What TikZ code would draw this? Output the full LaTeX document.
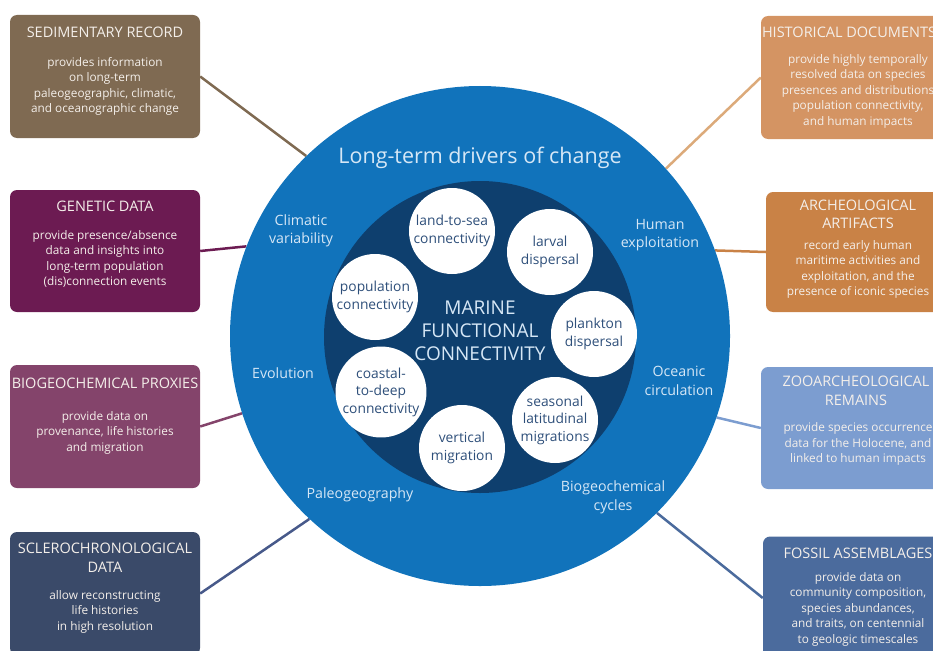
\documentclass[tikz,border=0pt]{standalone}
\usepackage{fontspec}
\setmainfont{Open Sans}
\usetikzlibrary{calc}
\pgfdeclarelayer{bg}
\pgfsetlayers{bg,main}
\definecolor{outerblue}{HTML}{1173BB}
\definecolor{innerblue}{HTML}{0E3F6E}
\definecolor{wctext}{HTML}{2E4F7A}
\definecolor{drvtext}{HTML}{D6E7F6}
\definecolor{boxtext}{HTML}{F4EFEA}
\definecolor{sedc}{HTML}{7F6A52}
\definecolor{genc}{HTML}{6C1B52}
\definecolor{proxc}{HTML}{84446B}
\definecolor{sclc}{HTML}{3A4A69}
\definecolor{sclline}{HTML}{47598A}
\definecolor{histc}{HTML}{D49463}
\definecolor{histline}{HTML}{DCAA7A}
\definecolor{archc}{HTML}{C98246}
\definecolor{zooc}{HTML}{7C9DD0}
\definecolor{fosc}{HTML}{4B6B9D}
\begin{document}
\begin{tikzpicture}[x=1pt,y=-1pt,
  infobox/.style={rounded corners=7pt, minimum width=190pt, minimum height=123pt, inner sep=0pt},
  ttl/.style={text=boxtext, font=\fontsize{14.5}{18.5}\selectfont, align=center, inner sep=0pt},
  bdy/.style={text=boxtext, font=\fontsize{11.8}{15.5}\selectfont, align=center, inner sep=0pt},
  drv/.style={text=drvtext, font=\fontsize{14.2}{18.5}\selectfont, align=center, inner sep=0pt},
  wc/.style={circle, fill=white, minimum size=86pt, inner sep=0pt, text=wctext, font=\fontsize{13.8}{17.5}\selectfont, align=center},
  link/.style={line width=2.5pt}]
\useasboundingbox (0,0) rectangle (933,650);
\clip (0,0) rectangle (933,650);

% central circles
\node[circle, fill=outerblue, minimum size=500pt, inner sep=0pt] (outer) at (480,336) {};
\node[circle, fill=innerblue, minimum size=312pt, inner sep=0pt] (inner) at (480,337) {};

\node[text=drvtext, font=\fontsize{21.5}{24}\selectfont, inner sep=0pt] (title) at (480,158) {Long-term drivers of change};
\node[text=drvtext, font=\fontsize{19}{23}\selectfont, align=center, inner sep=0pt] (mfc) at (480,331) {MARINE\\FUNCTIONAL\\CONNECTIVITY};

% drivers
\node[drv] (clim) at (301,231) {Climatic\\variability};
\node[drv] (human) at (660,235) {Human\\exploitation};
\node[drv] (evo) at (283,373) {Evolution};
\node[drv] (ocean) at (679,381) {Oceanic\\circulation};
\node[drv] (paleo) at (360,495) {Paleogeography};
\node[drv] (biogeo) at (613,497.5) {Biogeochemical\\cycles};

% white circles
\node[wc] (land) at (452,231) {land-to-sea\\connectivity};
\node[wc] (larval) at (550,252) {larval\\dispersal};
\node[wc] (plank) at (594,334) {plankton\\dispersal};
\node[wc] (seas) at (555,420) {seasonal\\latitudinal\\migrations};
\node[wc] (vert) at (462,448) {vertical\\migration};
\node[wc] (coast) at (381,392) {coastal-\\to-deep\\connectivity};
\node[wc] (pop) at (375,297) {population\\connectivity};

% left boxes
\node[infobox, fill=sedc] (sed) at (105,76.5) {};
\node[ttl] (sedt) at (105,32) {SEDIMENTARY RECORD};
\node[bdy] (sedb) at (105,86.5) {provides information\\on long-term\\paleogeographic, climatic,\\and oceanographic change};

\node[infobox, fill=genc, minimum height=122pt] (gen) at (105,251) {};
\node[ttl] (gent) at (105,206) {GENETIC DATA};
\node[bdy] (genb) at (105,259) {provide presence/absence\\data and insights into\\long-term population\\(dis)connection events};

\node[infobox, fill=proxc] (prox) at (105,426.5) {};
\node[ttl] (proxt) at (105,383) {BIOGEOCHEMICAL PROXIES};
\node[bdy] (proxb) at (105,432.5) {provide data on\\provenance, life histories\\and migration};

\node[infobox, fill=sclc] (scl) at (105,593.5) {};
\node[ttl] (sclt) at (105,557.5) {SCLEROCHRONOLOGICAL\\DATA};
\node[bdy] (sclb) at (105,611.5) {allow reconstructing\\life histories\\in high resolution};

% right boxes
\node[infobox, fill=histc] (hist) at (856,77.5) {};
\node[ttl] (histt) at (849,32) {HISTORICAL DOCUMENTS};
\node[bdy] (histb) at (858,91) {provide highly temporally\\resolved data on species\\presences and distributions\\population connectivity,\\and human impacts};

\node[infobox, fill=archc, minimum height=120pt] (arch) at (861,252) {};
\node[ttl] (archt) at (858,214.5) {ARCHEOLOGICAL\\ARTIFACTS};
\node[bdy] (archb) at (858,269.5) {record early human\\maritime activities and\\exploitation, and the\\presence of iconic species};

\node[infobox, fill=zooc, minimum height=122pt] (zoo) at (856,428) {};
\node[ttl] (zoot) at (856,391) {ZOOARCHEOLOGICAL\\REMAINS};
\node[bdy] (zoob) at (858,444) {provide species occurrence\\data for the Holocene, and\\linked to human impacts};

\node[infobox, fill=fosc] (fos) at (858,598) {};
\node[ttl] (fost) at (858,553) {FOSSIL ASSEMBLAGES};
\node[bdy] (fosb) at (858,609) {provide data on\\community composition,\\species abundances,\\and traits, on centennial\\to geologic timescales};

% connectors
\begin{pgfonlayer}{bg}
\draw[link, sedc] (sed.east) -- (outer.134);
\draw[link, genc] (gen.east) -- (outer.159.3);
\draw[link, proxc] (prox.east) -- (outer.198.9);
\draw[link, sclline] (scl.east) -- (outer.227.1);
\draw[link, histline] (hist.west) -- (outer.42.7);
\draw[link, archc] (arch.west) -- (outer.20);
\draw[link, zooc] (zoo.west) -- (outer.341.1);
\draw[link, fosc] (fos.west) -- (outer.315.3);
\end{pgfonlayer}
\end{tikzpicture}
\end{document}
